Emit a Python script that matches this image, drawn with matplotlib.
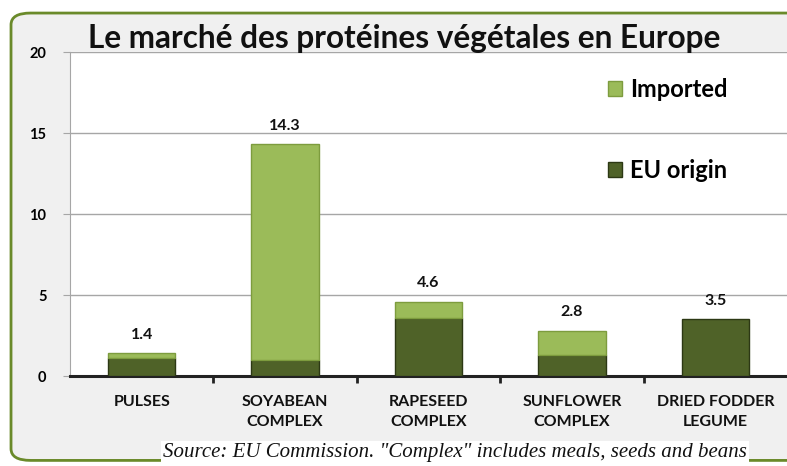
import matplotlib

matplotlib.use("Agg")
import matplotlib.pyplot as plt
from matplotlib.patches import FancyBboxPatch

categories = ["PULSES", "SOYABEAN\nCOMPLEX", "RAPESEED\nCOMPLEX", "SUNFLOWER\nCOMPLEX", "DRIED FODDER\nLEGUME"]
eu_origin = [1.1, 1.0, 3.6, 1.3, 3.5]
imported = [0.3, 13.3, 1.0, 1.5, 0.0]
totals = [1.4, 14.3, 4.6, 2.8, 3.5]
yticks = [0, 5, 10, 15, 20]

LIGHT = "#9bbb59"
DARK = "#4f6228"
FONT = "Lato"

fig = plt.figure(figsize=(7.87, 4.66), dpi=100)
fig.patch.set_facecolor("white")

# rounded green frame with light grey fill
frame = FancyBboxPatch((0.014, 0.012), 1.2, 0.96, boxstyle="round,pad=0,rounding_size=0.025",
                       transform=fig.transFigure, facecolor="#f0f0f0", edgecolor="#6a8a2a",
                       linewidth=2.0, zorder=-10)
fig.patches.append(frame)

ax = fig.add_axes((0.089, 0.193, 0.911, 0.695))
ax.set_zorder(1)
ax.set_facecolor("white")
xs = list(range(len(categories)))
w = 0.47
ax.bar(xs, eu_origin, width=w, color=DARK, edgecolor="#2c3814", linewidth=1.0, label="EU origin", zorder=3)
imp_edges = ["#7d9c3e" if v > 0 else "none" for v in imported]
ax.bar(xs, imported, width=w, bottom=eu_origin, color=LIGHT, edgecolor=imp_edges, linewidth=1.0,
       label="Imported", zorder=3)
for x, t in zip(xs, totals):
    ax.text(x, t + 0.7, f"{t:.1f}", ha="center", va="bottom", fontsize=11.5, fontweight="bold",
            family=FONT, color="#111111")

ax.set_xlim(-0.5, len(categories) - 0.5)
ax.set_ylim(0, 20)
ax.set_yticks(yticks)
ax.set_yticklabels([str(v) for v in yticks], fontsize=10.5, fontweight="bold", family=FONT)
ax.yaxis.grid(True, color="#a6a6a6", linewidth=1.0, zorder=0)
ax.set_axisbelow(True)
ax.tick_params(axis="y", length=5, color="#a6a6a6", pad=12)

ax.set_xticks([x + 0.5 for x in xs[:-1]])
ax.set_xticklabels([])
ax.tick_params(axis="x", length=5, width=2, color="#222222", direction="out")
for x, lab in zip(xs, categories):
    ax.text(x, -1.2, lab, ha="center", va="top", fontsize=11.5, fontweight="bold",
            family=FONT, linespacing=1.5, color="#111111", clip_on=False)

for s in ("top", "right"):
    ax.spines[s].set_visible(False)
ax.spines["left"].set_color("#a6a6a6")
ax.spines["bottom"].set_color("#222222")
ax.spines["bottom"].set_linewidth(2.2)

handles, labels = ax.get_legend_handles_labels()
leg = ax.legend(handles[::-1], labels[::-1], loc="upper left", bbox_to_anchor=(0.72, 0.985),
                frameon=False, prop={"family": FONT, "weight": "bold", "size": 17},
                handlelength=0.6, handleheight=0.6, handletextpad=0.35, labelspacing=2.45)

fig.text(0.112, 0.918, "Le marché des protéines végétales en Europe", fontsize=22.7, fontweight="bold",
         family=FONT, color="#111111", va="center", ha="left", zorder=5)

fig.text(0.207, 0.028, "Source: EU Commission. \"Complex\" includes meals, seeds and beans",
         fontsize=15, style="italic", family="Liberation Serif", color="#111111",
         va="center", ha="left", zorder=5, bbox=dict(facecolor="white", edgecolor="none", pad=1.5))

fig.savefig("out.png", dpi=100)
